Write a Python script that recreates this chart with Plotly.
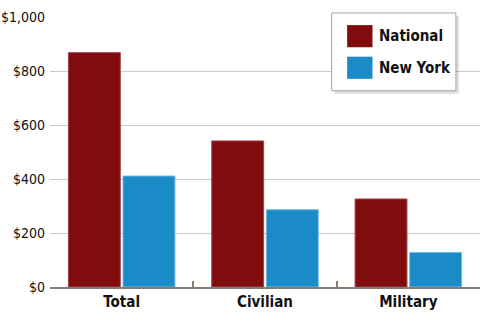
import plotly.graph_objects as go

categories = ["Total", "Civilian", "Military"]
national = [868, 541, 326]
new_york = [411, 286, 128]
series_names = ["National", "New York"]
series_colors = ["#800c0e", "#1b8bc7"]
y_ticks = [0, 200, 400, 600, 800, 1000]
y_tick_labels = ["$0", "$200", "$400", "$600", "$800", "$1,000"]

FONT = "DejaVu Sans Condensed, Liberation Sans Narrow, Arial Narrow, sans-serif"

fig = go.Figure()
for name, vals, col, edge in zip(series_names, [national, new_york], series_colors,
                                 ["#a04548", "#6db8e0"]):
    fig.add_trace(go.Bar(x=categories, y=vals, name=name, marker_color=col,
                         marker_line=dict(color=edge, width=1), showlegend=False))

# invisible trace to anchor the boundary-tick axis
fig.add_trace(go.Scatter(x=[], y=[], xaxis="x2", yaxis="y", showlegend=False))

axis_col = "#857b72"
fig.update_layout(
    width=486, height=324,
    margin=dict(l=50, r=6, t=17, b=37),
    paper_bgcolor="white", plot_bgcolor="white",
    barmode="group", bargap=0.238, bargroupgap=0.05,
    font=dict(family=FONT, color="#111111"),
    xaxis=dict(type="category", showgrid=False, zeroline=False,
               showline=True, linecolor=axis_col, linewidth=2,
               ticks="", tickfont=dict(size=15, family=FONT, weight="bold"),
               range=[-0.5, 2.5], automargin=False),
    xaxis2=dict(overlaying="x", anchor="y", range=[-0.5, 2.5],
                tickvals=[0.5, 1.5], ticks="inside", ticklen=6, tickwidth=2,
                tickcolor=axis_col, showticklabels=False, showgrid=False,
                zeroline=False, showline=False, side="bottom"),
    yaxis=dict(range=[0, 1000], tickvals=y_ticks, ticktext=y_tick_labels,
               showgrid=True, gridcolor="#cdc9c5", gridwidth=1,
               zeroline=False, showline=False, ticks="",
               tickfont=dict(size=14, family=FONT, color="#111111"),
               ticklabelstandoff=4, automargin=False),
)

# manual legend with shadow
shapes = [
    dict(type="rect", xref="paper", yref="paper", x0=0.662, x1=0.951, y0=0.716, y1=1.004,
         fillcolor="rgba(0,0,0,0.13)", line=dict(width=0), layer="above"),
    dict(type="rect", xref="paper", yref="paper", x0=0.655, x1=0.944, y0=0.727, y1=1.015,
         fillcolor="white", line=dict(color="#aaa39c", width=1), layer="above"),
]
sw_y = [(0.888, 0.970), (0.771, 0.853)]
txt_y = [0.929, 0.812]
for (y0, y1), col, ty, name in zip(sw_y, series_colors, txt_y, series_names):
    shapes.append(dict(type="rect", xref="paper", yref="paper", x0=0.691, x1=0.750,
                       y0=y0, y1=y1, fillcolor=col, line=dict(width=0), layer="above"))
    fig.add_annotation(xref="paper", yref="paper", x=0.760, y=ty, text=name,
                       showarrow=False, xanchor="left", yanchor="middle",
                       font=dict(size=15, family=FONT, color="#111111", weight="bold"))
fig.update_layout(shapes=shapes)

fig.write_html("out.html")
